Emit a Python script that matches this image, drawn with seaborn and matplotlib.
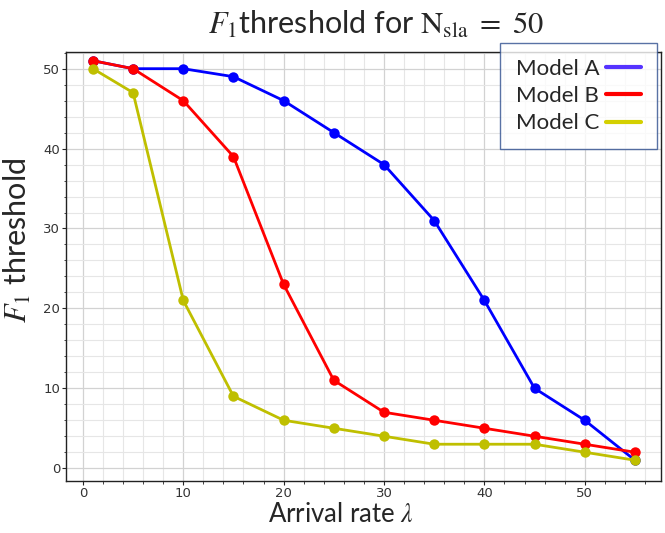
import pandas as pd
import matplotlib
matplotlib.use("Agg")
import matplotlib.pyplot as plt
from matplotlib.lines import Line2D
from matplotlib.ticker import MultipleLocator
import seaborn as sns

# données
arrival_rate = [1, 5, 10, 15, 20, 25, 30, 35, 40, 45, 50, 55]
model_a = [51, 50, 50, 49, 46, 42, 38, 31, 21, 10, 6, 1]
model_b = [51, 50, 46, 39, 23, 11, 7, 6, 5, 4, 3, 2]
model_c = [50, 47, 21, 9, 6, 5, 4, 3, 3, 3, 2, 1]
models = ["Model A", "Model B", "Model C"]
line_colors = ["#0000ff", "#ff0000", "#bfbf00"]
legend_colors = ["#5533ff", "#ff0000", "#d4d000"]

df = pd.DataFrame({
    "rate": arrival_rate * 3,
    "f1": model_a + model_b + model_c,
    "model": [m for m in models for _ in arrival_rate],
})

sns.set_style("white")
plt.rcParams["font.family"] = ["Lato", "DejaVu Sans"]
plt.rcParams["mathtext.fontset"] = "stix"

fig = plt.figure(figsize=(6.65, 5.33), dpi=100)
ax = fig.add_axes([0.099, 0.0976, 0.895, 0.805])

sns.lineplot(data=df, x="rate", y="f1", hue="model", palette=line_colors,
             marker="o", markersize=7.5, markeredgewidth=0, linewidth=2.0,
             legend=False, ax=ax)

ax.set_xlim(-1.7, 57.6)
ax.set_ylim(-1.6, 52.1)
ax.xaxis.set_major_locator(MultipleLocator(10))
ax.xaxis.set_minor_locator(MultipleLocator(2))
ax.yaxis.set_major_locator(MultipleLocator(10))
ax.yaxis.set_minor_locator(MultipleLocator(2))
ax.grid(which="major", color="#d2d2d2", linewidth=0.9)
ax.grid(which="minor", color="#e6e6e6", linewidth=0.8)
ax.set_axisbelow(True)
ax.tick_params(which="major", length=3, pad=1, labelsize=9.5, labelcolor="#333333",
               bottom=True, left=True)
ax.tick_params(which="minor", length=1.8, bottom=True, left=True)
for lbl in ax.get_xticklabels() + ax.get_yticklabels():
    lbl.set_family("DejaVu Sans")
for s in ax.spines.values():
    s.set_color("#222222")
    s.set_linewidth(1.0)

ax.set_xlabel(r"Arrival rate $\lambda$", fontsize=18.5)
ax.xaxis.set_label_coords(0.462, -0.0495)
ax.set_ylabel(r"$F_1$ threshold", fontsize=22)
ax.yaxis.set_label_coords(-0.055, 0.56)
ax.set_title(r"$F_1$threshold for $\mathrm{N}_{\mathrm{sla}}\ =\ 50$", fontsize=22,
             x=0.521, pad=13)

handles = [Line2D([0], [0], color=c, linewidth=3) for c in legend_colors]
leg = fig.legend(handles, models, loc="upper right", bbox_to_anchor=(0.988, 0.919),
                 fontsize=16, markerfirst=False, fancybox=False, frameon=True,
                 handlelength=1.6, borderpad=0.7, labelspacing=0.33, handletextpad=0.3,
                 borderaxespad=0)
leg.get_frame().set_edgecolor("#2f4f8f")
leg.get_frame().set_linewidth(1.0)

fig.savefig("out.png", dpi=100)
